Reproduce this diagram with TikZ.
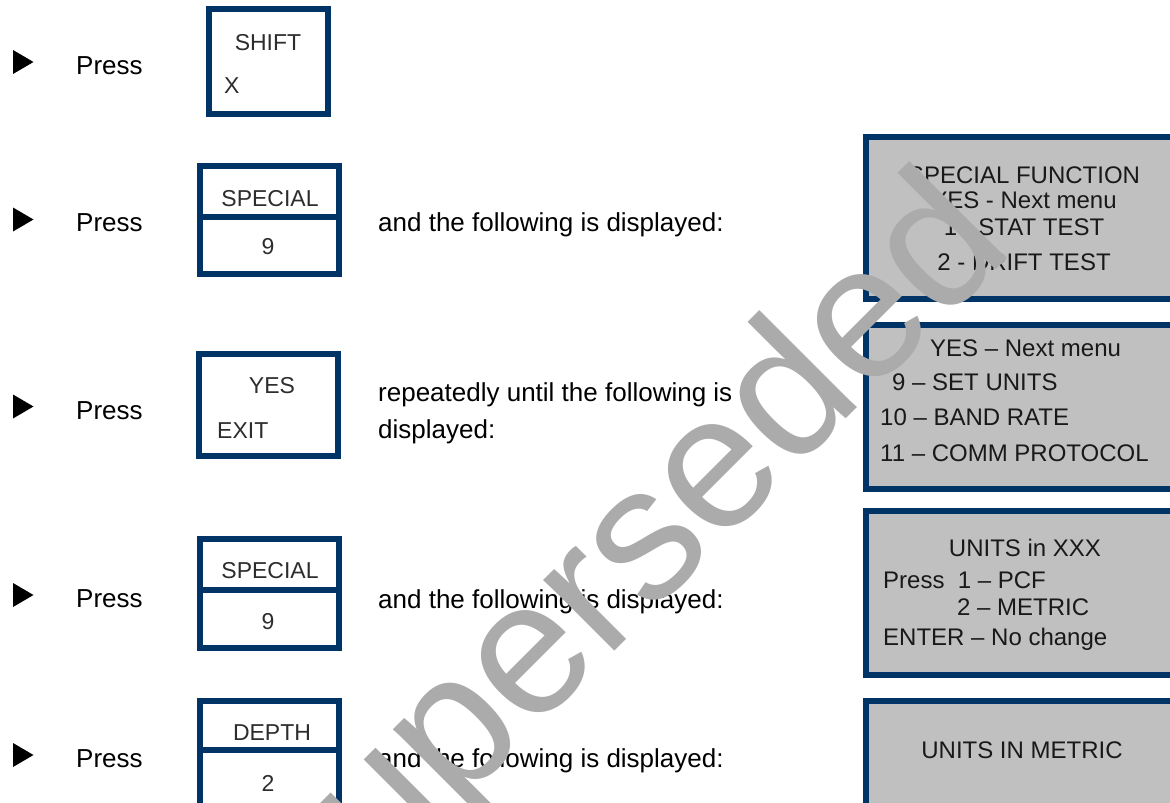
\documentclass[tikz,border=0pt]{standalone}
\usepackage{fontspec}
\setmainfont{Liberation Sans}
\definecolor{navy}{RGB}{0,51,102}
\definecolor{screengray}{RGB}{192,192,192}
\definecolor{keytext}{RGB}{45,45,45}
\definecolor{scrtext}{RGB}{25,25,25}
\definecolor{wmark}{RGB}{171,171,171}
\tikzset{
  keybox/.style={draw=navy, line width=6pt, fill=white},
  scrbox/.style={draw=navy, line width=6pt, fill=screengray},
  bodytext/.style={inner sep=0pt, anchor=base west, font=\fontsize{26pt}{31pt}\selectfont, text=black},
  keylbl/.style={inner sep=0pt, anchor=base, font=\fontsize{23pt}{27pt}\selectfont, text=keytext},
  keylblw/.style={keylbl, anchor=base west},
  scrlbl/.style={inner sep=0pt, anchor=base, font=\fontsize{24pt}{29pt}\selectfont, text=scrtext},
  scrlblw/.style={scrlbl, anchor=base west},
  bullet/.style={fill=black},
}
\begin{document}
\begin{tikzpicture}[x=1pt,y=-1pt]
\useasboundingbox (0,0) rectangle (1170,803);
\clip (0,0) rectangle (1170,803);
\fill[white] (0,0) rectangle (1170,803);

% bullets and "Press"
\foreach \cy/\by/\n in {62/74/1, 219.5/231/2, 406.5/419/3, 595/607/4, 755/767/5}{
  \fill[bullet] (13,\cy-12) -- (33.5,\cy) -- (13,\cy+12) -- cycle;
  \node[bodytext] (press\n) at (76,\by) {Press};
}

% keys
\draw[keybox] (209,9) rectangle (328,114);
\node[keylbl] (k1a) at (268,50.3) {SHIFT};
\node[keylblw] (k1b) at (224,93) {X};

\draw[keybox] (200,166) rectangle (339,274);
\draw[navy, line width=6pt] (200,216.5) -- (339,216.5);
\node[keylbl] (k2a) at (270,206) {SPECIAL};
\node[keylbl] (k2b) at (268,254) {9};

\draw[keybox] (199,354) rectangle (338,456);
\node[keylbl] (k3a) at (272,393) {YES};
\node[keylblw] (k3b) at (217,438) {EXIT};

\draw[keybox] (200,539) rectangle (339,648);
\draw[navy, line width=6pt] (200,590) -- (339,590);
\node[keylbl] (k4a) at (270,578) {SPECIAL};
\node[keylbl] (k4b) at (268,629) {9};

\draw[keybox] (200,701) rectangle (339,830);
\draw[navy, line width=6pt] (200,750) -- (339,750);
\node[keylbl] (k5a) at (272,740) {DEPTH};
\node[keylbl] (k5b) at (268,791) {2};

% instructions
\node[bodytext] (t2) at (378,231.5) {and the following is displayed:};
\node[bodytext] (t3a) at (378,401.5) {repeatedly until the following is};
\node[bodytext] (t3b) at (378,438) {displayed:};
\node[bodytext] (t4) at (378,608) {and the following is displayed:};
\node[bodytext] (t5) at (378,767) {and the following is displayed:};

% screens
\draw[scrbox] (866,137) rectangle (1190,299);
\node[scrlbl] (s1a) at (1024,183.6) {SPECIAL FUNCTION};
\node[scrlbl] (s1b) at (1024,208.6) {YES - Next menu};
\node[scrlbl] (s1c) at (1024,235.6) {1 - STAT TEST};
\node[scrlbl] (s1d) at (1024,270.6) {2 - DRIFT TEST};

\draw[scrbox] (866,325) rectangle (1190,489);
\node[scrlblw] (s2a) at (930,356.6) {YES – Next menu};
\node[scrlblw] (s2b) at (892,390.6) {9 – SET UNITS};
\node[scrlblw] (s2c) at (880,425.6) {10 – BAND RATE};
\node[scrlblw] (s2d) at (880,461.6) {11 – COMM PROTOCOL};

\draw[scrbox] (866,511) rectangle (1190,675);
\node[scrlbl] (s3a) at (1025,556.6) {UNITS in XXX};
\node[scrlblw] (s3b) at (883,588.6) {Press\ \ 1 – PCF};
\node[scrlblw] (s3c) at (957,615.6) {2 – METRIC};
\node[scrlblw] (s3d) at (883,645.6) {ENTER – No change};

\draw[scrbox] (866,701) rectangle (1190,840);
\node[scrlbl] (s4a) at (1022,758.6) {UNITS IN METRIC};

% watermark
\node[rotate=45, anchor=base west, inner sep=0pt, text=wmark,
      font=\fontsize{190pt}{200pt}\selectfont] (wm) at (291.5,974) {Superseded};
\end{tikzpicture}
\end{document}
